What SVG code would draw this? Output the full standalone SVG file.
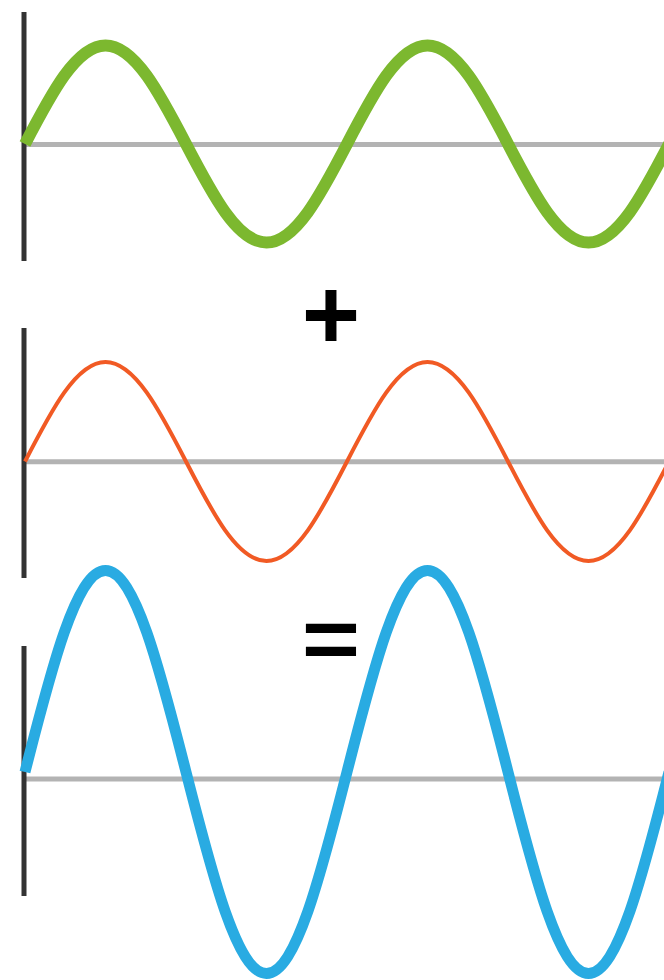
<svg xmlns="http://www.w3.org/2000/svg" width="664" height="980" viewBox="0 0 664 980">
<style>
.base{stroke:#b3b3b3;stroke-width:5;fill:none}
.axis{stroke:#333333;stroke-width:5;fill:none}
.wave{fill:none;stroke-linejoin:round}
.op{font-family:"Liberation Sans",Arial,sans-serif;font-weight:bold;font-size:100px;fill:#000;text-anchor:middle}
</style>
<rect width="664" height="980" fill="#ffffff"/>
<g id="wave-green">
<line class="base" x1="24" y1="144.5" x2="664" y2="144.5"/>
<line class="axis" x1="24" y1="12" x2="24" y2="261"/>
<path class="wave" stroke="#7cb82f" stroke-width="12" d="M25,144 c26.25,-50.46 51.37,-98.5 80.5,-98.5 c29.13,0 54.25,48.04 80.5,98.5 c26.25,50.46 51.37,98.5 80.5,98.5 c29.13,0 54.25,-48.04 80.5,-98.5 c26.25,-50.46 51.37,-98.5 80.5,-98.5 c29.13,0 54.25,48.04 80.5,98.5 c26.25,50.46 51.37,98.5 80.5,98.5 c29.13,0 54.25,-48.04 80.5,-98.5"/>
</g>
<g id="plus">
<text class="op" x="331" y="349">+</text>
</g>
<g id="wave-orange">
<line class="base" x1="24" y1="461.7" x2="664" y2="461.7"/>
<line class="axis" x1="24" y1="328" x2="24" y2="578"/>
<path class="wave" stroke="#f15a24" stroke-width="4" d="M25,461.5 c26.25,-50.97 51.37,-99.5 80.5,-99.5 c29.13,0 54.25,48.53 80.5,99.5 c26.25,50.97 51.37,99.5 80.5,99.5 c29.13,0 54.25,-48.53 80.5,-99.5 c26.25,-50.97 51.37,-99.5 80.5,-99.5 c29.13,0 54.25,48.53 80.5,99.5 c26.25,50.97 51.37,99.5 80.5,99.5 c29.13,0 54.25,-48.53 80.5,-99.5"/>
</g>
<g id="equals">
<text class="op" transform="translate(331,640.5) scale(1,0.85)" x="0" y="32.6">=</text>
</g>
<g id="wave-blue">
<line class="base" x1="24" y1="779" x2="664" y2="779"/>
<line class="axis" x1="24" y1="646" x2="24" y2="896"/>
<path class="wave" stroke="#29abe2" stroke-width="11" d="M25,772 c26.25,-103.23 51.37,-201.5 80.5,-201.5 c29.13,0 54.25,98.27 80.5,201.5 c26.25,103.23 51.37,201.5 80.5,201.5 c29.13,0 54.25,-98.27 80.5,-201.5 c26.25,-103.23 51.37,-201.5 80.5,-201.5 c29.13,0 54.25,98.27 80.5,201.5 c26.25,103.23 51.37,201.5 80.5,201.5 c29.13,0 54.25,-98.27 80.5,-201.5"/>
</g>
</svg>
